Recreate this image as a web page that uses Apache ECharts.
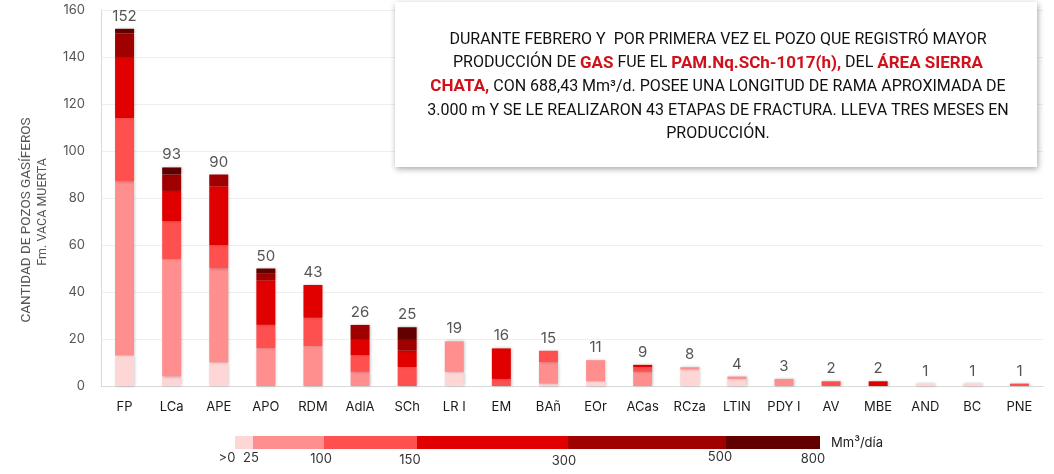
<!DOCTYPE html>
<html style="height: 100%">
<head>
 <meta charset="utf-8">
 <title>Pozos gasíferos Vaca Muerta</title>
 <script src="https://cdn.jsdelivr.net/npm/echarts@6/dist/echarts.min.js"></script>
</head>
<body style="height: 100%; margin: 0; background: #fff">
 <div id="main" style="width: 1054px; height: 474px"></div>
 <script type="text/javascript">
 // áreas (eje x)
 var areas = ['FP', 'LCa', 'APE', 'APO', 'RDM', 'AdlA', 'SCh', 'LR I', 'EM', 'BAñ', 'EOr', 'ACas', 'RCza', 'LTIN', 'PDY I', 'AV', 'MBE', 'AND', 'BC', 'PNE'];

 // cantidad de pozos por rango de producción (Mm3/día)
 var r0_25    = [13, 4, 10, 0, 0, 0, 0, 6, 0, 1, 2, 0, 7, 3, 0, 0, 0, 1, 1, 0];
 var r25_100  = [74, 50, 40, 16, 17, 6, 0, 13, 0, 9, 9, 6, 1, 1, 3, 0, 0, 0, 0, 0];
 var r100_150 = [27, 16, 10, 10, 12, 7, 8, 0, 3, 5, 0, 2, 0, 0, 0, 2, 0, 0, 0, 1];
 var r150_300 = [26, 13, 25, 19, 14, 7, 7, 0, 13, 0, 0, 1, 0, 0, 0, 0, 2, 0, 0, 0];
 var r300_500 = [10, 7, 5, 3, 0, 6, 5, 0, 0, 0, 0, 0, 0, 0, 0, 0, 0, 0, 0, 0];
 var r500_800 = [2, 3, 0, 2, 0, 0, 5, 0, 0, 0, 0, 0, 0, 0, 0, 0, 0, 0, 0, 0];

 // totales mostrados sobre cada barra
 var totales = [152, 93, 90, 50, 43, 26, 25, 19, 16, 15, 11, 9, 8, 4, 3, 2, 2, 1, 1, 1];

 // escala de colores
 var rangos = ['>0-25', '25-100', '100-150', '150-300', '300-500', '500-800'];
 var colores = ['#ffd6d6', '#ff8f8f', '#ff5050', '#e00000', '#a00000', '#620000'];
 var cortes = ['>0', '25', '100', '150', '300', '500', '800'];

 var myChart = echarts.init(document.getElementById('main'));

 var series = [r0_25, r25_100, r100_150, r150_300, r300_500, r500_800].map(function (d, i) {
 return {
 name: rangos[i],
 type: 'bar',
 stack: 'pozos',
 barWidth: 19,
 data: d.map(function (v) { return v === 0 ? '-' : v; }),
 itemStyle: {
 color: colores[i],
 shadowBlur: 3,
 shadowColor: 'rgba(0,0,0,0.25)',
 shadowOffsetX: 1
 }
 };
 });

 // serie invisible solo para la etiqueta del total
 series.push({
 name: 'total',
 type: 'bar',
 barWidth: 19,
 barGap: '-100%',
 data: totales,
 z: 1,
 itemStyle: { color: 'rgba(0,0,0,0)' },
 label: {
 show: true,
 position: 'top',
 distance: 5,
 color: '#555',
 fontSize: 15,
 fontFamily: 'Inter'
 }
 });

 // leyenda dibujada a mano (bordes en px)
 var legX = [235, 253, 324, 417, 568, 726, 820];
 var legLabelX = [227, 251, 321, 410, 564, 720, 813];
 var legLabelY = [458, 458, 459, 460, 461, 457, 459];
 var graphics = [];
 colores.forEach(function (c, i) {
 graphics.push({
 type: 'rect',
 shape: { x: legX[i], y: 436, width: legX[i + 1] - legX[i], height: 13 },
 style: { fill: c }
 });
 });
 cortes.forEach(function (t, i) {
 graphics.push({
 type: 'text',
 x: legLabelX[i],
 y: legLabelY[i],
 style: { text: t, align: 'center', verticalAlign: 'middle', fontSize: 13, fontFamily: 'Inter', fill: '#333' }
 });
 });
 graphics.push({
 type: 'text', x: 831, y: 443,
 style: { text: 'Mm³/día', align: 'left', verticalAlign: 'middle', fontSize: 13, fontFamily: 'Inter', fill: '#222' }
 });

 // título del eje y
 graphics.push({
 type: 'text', x: 27, y: 220, rotation: Math.PI / 2,
 style: { text: 'CANTIDAD DE POZOS GASÍFEROS', align: 'center', verticalAlign: 'middle', fontSize: 13.5, fontFamily: 'Roboto', fill: '#555' }
 });
 graphics.push({
 type: 'text', x: 43, y: 212, rotation: Math.PI / 2,
 style: { text: 'Fm. VACA MUERTA', align: 'center', verticalAlign: 'middle', fontSize: 12.5, fontFamily: 'Roboto', fill: '#555' }
 });

 // recuadro con comentario
 graphics.push({
 type: 'rect', z: 10,
 shape: { x: 395, y: 2, width: 642, height: 165 },
 style: { fill: '#fff', shadowBlur: 6, shadowColor: 'rgba(0,0,0,0.35)', shadowOffsetX: 1, shadowOffsetY: 2 }
 });
 graphics.push({
 type: 'text', z: 11, x: 718, y: 28,
 style: {
 text: 'DURANTE FEBRERO Y  POR PRIMERA VEZ EL POZO QUE REGISTRÓ MAYOR\n' +
 'PRODUCCIÓN DE {r|GAS} FUE EL {r|PAM.Nq.SCh-1017(h),} DEL {r|ÁREA SIERRA}\n' +
 '{r|CHATA,} CON 688,43 Mm³/d. POSEE UNA LONGITUD DE RAMA APROXIMADA DE\n' +
 '3.000 m Y SE LE REALIZARON 43 ETAPAS DE FRACTURA. LLEVA TRES MESES EN\n' +
 'PRODUCCIÓN.',
 align: 'center',
 verticalAlign: 'top',
 fontSize: 16,
 fontFamily: 'Roboto',
 fill: '#111',
 lineHeight: 23.6,
 rich: {
 r: { fill: '#d0111b', color: '#d0111b', fontWeight: 'bold', fontSize: 17, fontFamily: 'Roboto', lineHeight: 23.6 }
 }
 }
 });

 var option = {
 animation: false,
 grid: { left: 101, right: 11, top: 10, bottom: 88 },
 xAxis: {
 type: 'category',
 data: areas,
 axisLine: { lineStyle: { color: '#d9d9d9' } },
 axisTick: { show: false },
 axisLabel: { color: '#1a1a1a', fontSize: 13, fontFamily: 'Inter', margin: 15, interval: 0 }
 },
 yAxis: {
 type: 'value',
 min: 0,
 max: 160,
 interval: 20,
 axisLine: { show: true, lineStyle: { color: '#d9d9d9' } },
 axisTick: { show: false },
 axisLabel: { color: '#555', fontSize: 13, fontFamily: 'Inter', margin: 16 },
 splitLine: { lineStyle: { color: '#efefef' } }
 },
 series: series,
 graphic: graphics
 };

 myChart.setOption(option);
 </script>
</body>
</html>
